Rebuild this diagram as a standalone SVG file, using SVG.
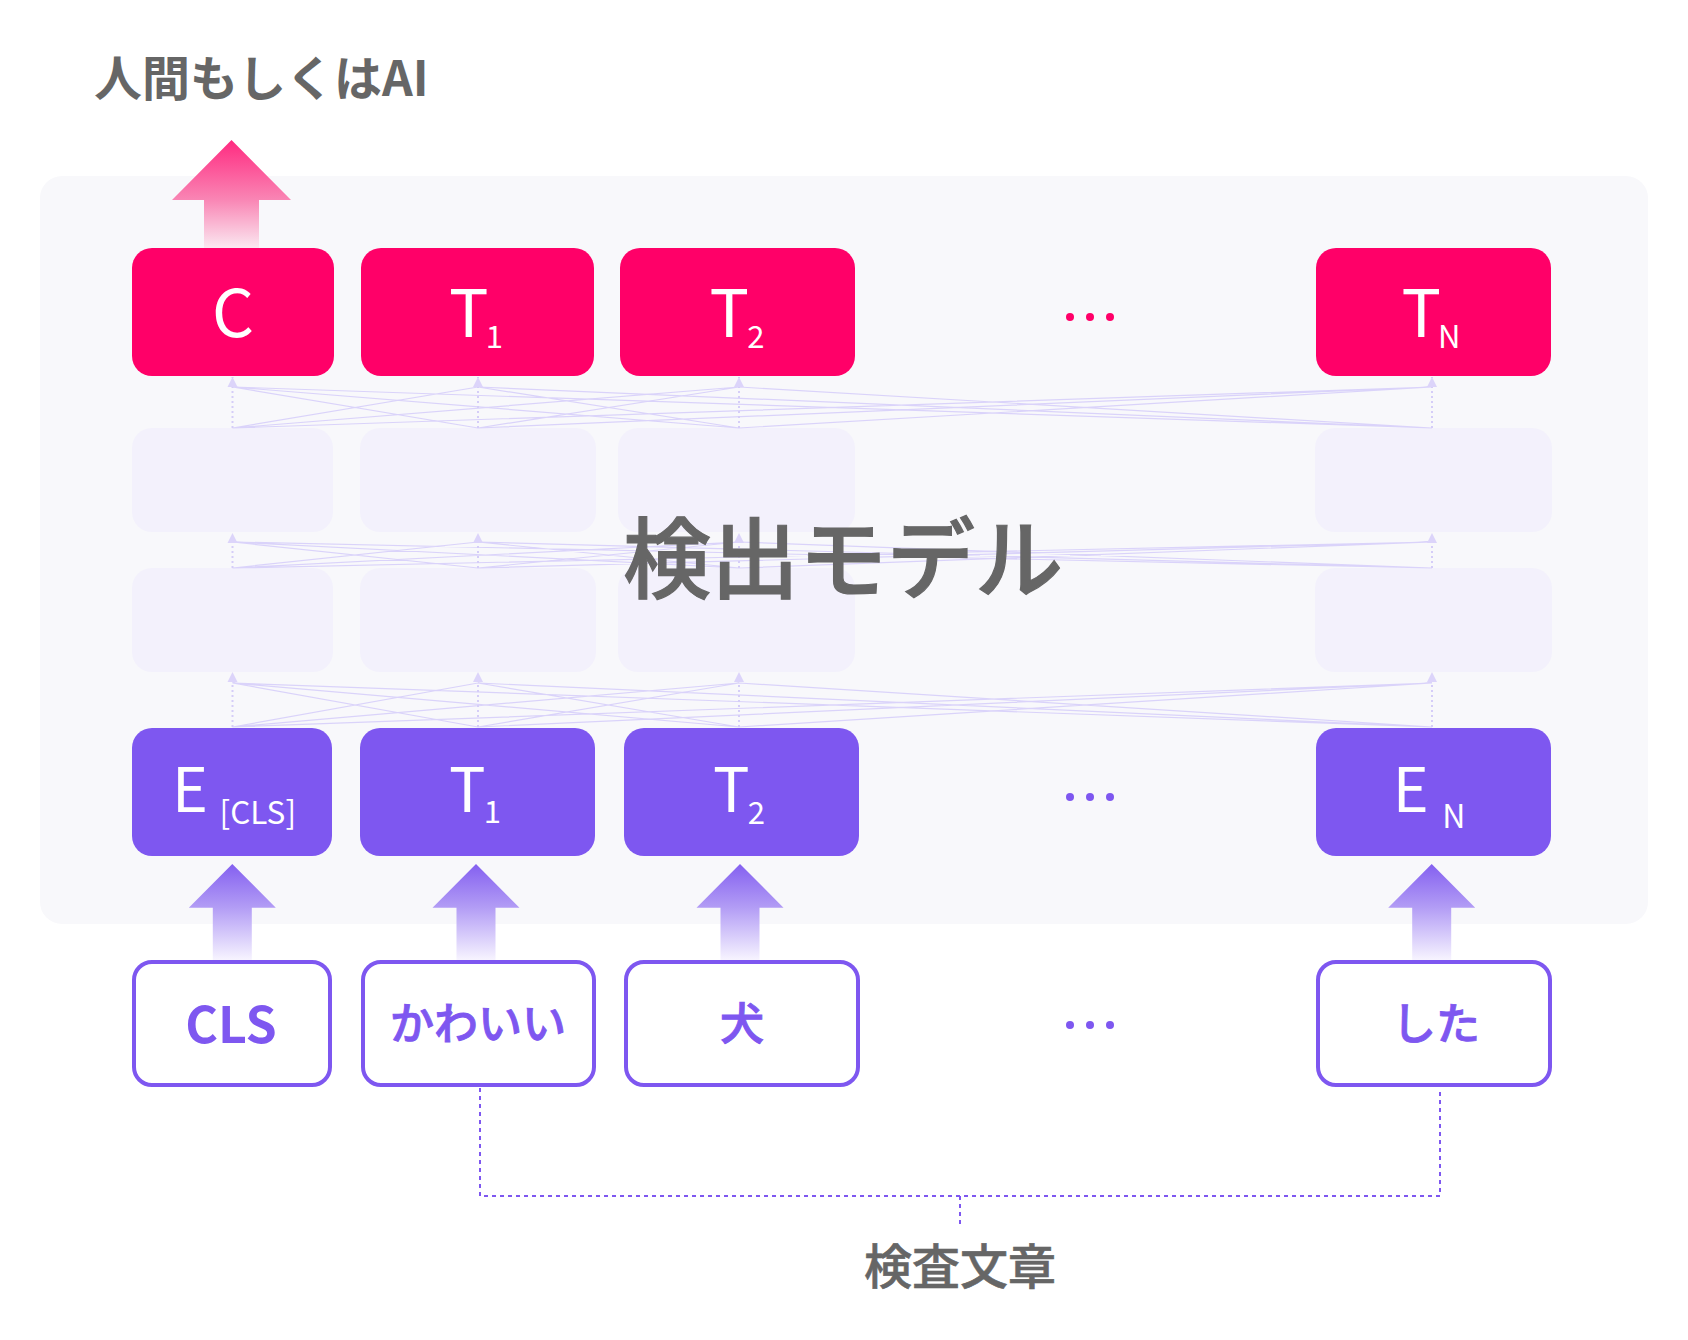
<svg xmlns="http://www.w3.org/2000/svg" width="1688" height="1340" viewBox="0 0 1688 1340">
<style>
text{font-family:"Noto Sans CJK JP","Noto Sans",sans-serif}
.pink{fill:#ff0068}
.purple{fill:#7e57f0}
.hid{fill:#f3f1fc}
.inbox{fill:#ffffff;stroke:#7e57f0;stroke-width:4}
.lbl{fill:#ffffff;font-weight:400;text-anchor:middle}
.inl{fill:#7e57f0;stroke:#7e57f0;stroke-width:0.9;text-anchor:middle;font-size:44px;font-weight:500}
.conn{fill:none;stroke:#dad3fa;stroke-width:1.2}
.vdash{fill:none;stroke:#d5cdf8;stroke-width:2;stroke-dasharray:2 3}
.brk{fill:none;stroke:#7e57f0;stroke-width:2;stroke-dasharray:4 4}
.grey{fill:#666666}
</style>
<defs>
<linearGradient id="gPink" x1="0" y1="0" x2="0" y2="1">
<stop offset="0" stop-color="#ff2a80"/>
<stop offset="0.55" stop-color="#f985b4"/>
<stop offset="1" stop-color="#fbe8f1"/>
</linearGradient>
<linearGradient id="gPurple" x1="0" y1="0" x2="0" y2="1">
<stop offset="0" stop-color="#8460f0"/>
<stop offset="0.45" stop-color="#b29cf5"/>
<stop offset="1" stop-color="#f7f4ff"/>
</linearGradient>
<marker id="ah" viewBox="0 0 10 10" refX="10" refY="5" markerWidth="10" markerHeight="11" markerUnits="userSpaceOnUse" orient="auto">
<path d="M0,0 L10,5 L0,10 z" fill="#dcd4fa"/>
</marker>
</defs>

<rect width="1688" height="1340" fill="#ffffff"/>

<text id="title" class="grey" x="94" y="96" font-size="48" font-weight="700">人間もしくはAI</text>

<rect id="panel" x="40" y="176" width="1608" height="748" rx="22" fill="#f8f8fb"/>

<g id="hidden-layers">
<rect class="hid" x="132" y="428" width="201" height="104" rx="20"/>
<rect class="hid" x="360" y="428" width="236" height="104" rx="20"/>
<rect class="hid" x="618" y="428" width="237" height="104" rx="20"/>
<rect class="hid" x="1315" y="428" width="237" height="104" rx="20"/>
<rect class="hid" x="132" y="568" width="201" height="104" rx="20"/>
<rect class="hid" x="360" y="568" width="236" height="104" rx="20"/>
<rect class="hid" x="618" y="568" width="237" height="104" rx="20"/>
<rect class="hid" x="1315" y="568" width="237" height="104" rx="20"/>
</g>

<g id="connectors">
<path class="conn" d="M232.5,428 L478,387 M232.5,428 L739,387 M232.5,428 L1432,387 M478,428 L232.5,387 M478,428 L739,387 M478,428 L1432,387 M739,428 L232.5,387 M739,428 L478,387 M739,428 L1432,387 M1432,428 L232.5,387 M1432,428 L478,387 M1432,428 L739,387"/>
<path class="conn" d="M232.5,568 L478,542 M232.5,568 L739,542 M232.5,568 L1432,542 M478,568 L232.5,542 M478,568 L739,542 M478,568 L1432,542 M739,568 L232.5,542 M739,568 L478,542 M739,568 L1432,542 M1432,568 L232.5,542 M1432,568 L478,542 M1432,568 L739,542"/>
<path class="conn" d="M232.5,727 L478,683 M232.5,727 L739,683 M232.5,727 L1432,683 M478,727 L232.5,683 M478,727 L739,683 M478,727 L1432,683 M739,727 L232.5,683 M739,727 L478,683 M739,727 L1432,683 M1432,727 L232.5,683 M1432,727 L478,683 M1432,727 L739,683"/>
<g marker-end="url(#ah)">
<path class="vdash" d="M232.5,428 V377"/>
<path class="vdash" d="M478,428 V377"/>
<path class="vdash" d="M739,428 V377"/>
<path class="vdash" d="M1432,428 V377"/>
<path class="vdash" d="M232.5,568 V533"/>
<path class="vdash" d="M478,568 V533"/>
<path class="vdash" d="M739,568 V533"/>
<path class="vdash" d="M1432,568 V533"/>
<path class="vdash" d="M232.5,727 V672"/>
<path class="vdash" d="M478,727 V672"/>
<path class="vdash" d="M739,727 V672"/>
<path class="vdash" d="M1432,727 V672"/>
</g>
<path class="brk" d="M480,1088 V1196 H1440 V1088"/>
<path class="brk" d="M960,1196 V1228"/>
</g>

<text id="model-label" class="grey" x="843" y="591" font-size="88" font-weight="500" stroke="#666666" stroke-width="1.2" text-anchor="middle">検出モデル</text>

<g id="out-arrow">
<polygon fill="url(#gPink)" points="231.5,140 291,200 259,200 259,248 204,248 204,200 172,200"/>
</g>

<g id="out-C">
<rect class="pink" x="132" y="248" width="202" height="128" rx="20"/>
<text class="lbl" x="233" y="337" font-size="66">C</text>
</g>
<g id="out-T1">
<rect class="pink" x="361" y="248" width="233" height="128" rx="20"/>
<text class="lbl" x="476" y="337" font-size="66">T<tspan font-size="31" dx="-3" dy="11">1</tspan></text>
</g>
<g id="out-T2">
<rect class="pink" x="620" y="248" width="235" height="128" rx="20"/>
<text class="lbl" x="737" y="337" font-size="66">T<tspan font-size="31" dx="-2" dy="11">2</tspan></text>
</g>
<g id="out-dots" class="pink">
<circle cx="1070" cy="317" r="4"/><circle cx="1090" cy="317" r="4"/><circle cx="1110" cy="317" r="4"/>
</g>
<g id="out-TN">
<rect class="pink" x="1316" y="248" width="235" height="128" rx="20"/>
<text class="lbl" x="1431" y="337" font-size="66">T<tspan font-size="31" dx="-3" dy="11">N</tspan></text>
</g>

<g id="emb-E">
<rect class="purple" x="132" y="728" width="200" height="128" rx="20"/>
<text class="lbl" x="234" y="812" font-size="61">E <tspan font-size="31.5" dx="-2" dy="12">[CLS]</tspan></text>
</g>
<g id="emb-T1">
<rect class="purple" x="360" y="728" width="235" height="128" rx="20"/>
<text class="lbl" x="475" y="812" font-size="61">T<tspan font-size="31" dx="-2" dy="11">1</tspan></text>
</g>
<g id="emb-T2">
<rect class="purple" x="624" y="728" width="235" height="128" rx="20"/>
<text class="lbl" x="739" y="812" font-size="61">T<tspan font-size="31" dx="-2" dy="12">2</tspan></text>
</g>
<g id="emb-dots" class="purple">
<circle cx="1070" cy="797" r="4"/><circle cx="1090" cy="797" r="4"/><circle cx="1110" cy="797" r="4"/>
</g>
<g id="emb-EN">
<rect class="purple" x="1316" y="728" width="235" height="128" rx="20"/>
<text class="lbl" x="1429" y="812" font-size="61">E <tspan font-size="32" dy="16">N</tspan></text>
</g>

<g id="in-arrows" fill="url(#gPurple)">
<polygon points="232.3,864 275.8,907.7 251.8,907.7 251.8,960 212.8,960 212.8,907.7 188.8,907.7"/>
<polygon points="476,864 519.5,907.7 495.5,907.7 495.5,960 456.5,960 456.5,907.7 432.5,907.7"/>
<polygon points="740,864 783.5,907.7 759.5,907.7 759.5,960 720.5,960 720.5,907.7 696.5,907.7"/>
<polygon points="1431.7,864 1475.2,907.7 1451.2,907.7 1451.2,960 1412.2,960 1412.2,907.7 1388.2,907.7"/>
</g>

<g id="in-CLS">
<rect class="inbox" x="134" y="962" width="196" height="123" rx="18"/>
<text x="231" y="1043" font-size="50" font-weight="700" fill="#7e57f0" text-anchor="middle">CLS</text>
</g>
<g id="in-kawaii">
<rect class="inbox" x="363" y="962" width="231" height="123" rx="18"/>
<text class="inl" x="478" y="1040">かわいい</text>
</g>
<g id="in-inu">
<rect class="inbox" x="626" y="962" width="232" height="123" rx="18"/>
<text class="inl" x="742" y="1040">犬</text>
</g>
<g id="in-dots" class="purple">
<circle cx="1070" cy="1025" r="4"/><circle cx="1090" cy="1025" r="4"/><circle cx="1110" cy="1025" r="4"/>
</g>
<g id="in-shita">
<rect class="inbox" x="1318" y="962" width="232" height="123" rx="18"/>
<text class="inl" x="1436" y="1040">した</text>
</g>

<text id="input-label" class="grey" x="960" y="1284" font-size="48" font-weight="500" stroke="#666666" stroke-width="0.6" text-anchor="middle">検査文章</text>
</svg>
